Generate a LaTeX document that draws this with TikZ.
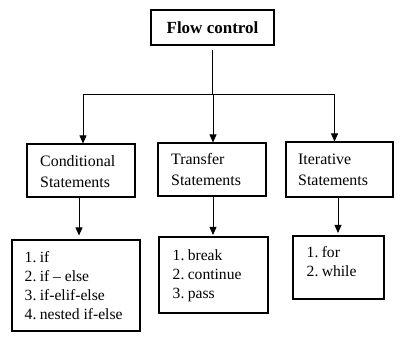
\documentclass[tikz,border=0pt]{standalone}
\usepackage{fontspec}
\setmainfont{Liberation Serif}
\usetikzlibrary{arrows.meta}
\newcommand{\nsp}{\hspace{3.4pt}}
\begin{document}
\begin{tikzpicture}[x=1pt,y=-1pt,
  box/.style={draw,line width=1.1pt,inner sep=0pt,rectangle},
  conn/.style={line width=0.8pt},
  arr/.style={line width=0.8pt,-{Triangle[length=8pt,width=7pt]}},
  head/.style={align=left,inner sep=0pt,anchor=north west,font=\fontsize{15.9}{21}\selectfont},
  items/.style={align=left,inner sep=0pt,anchor=north west,font=\fontsize{15.6}{19}\selectfont}]
\useasboundingbox (0,0) rectangle (412,350);
% boxes
\node[box,minimum width=123pt,minimum height=35pt,font=\bfseries\fontsize{17}{20}\selectfont] (fc) at (212.5,27.5) {Flow control};
\node[box,minimum width=108pt,minimum height=53pt] (cond) at (81,170.5) {};
\node[box,minimum width=108pt,minimum height=53pt] (trans) at (212,169.5) {};
\node[box,minimum width=107pt,minimum height=55pt] (iter) at (339.5,169.5) {};
\node[box,minimum width=128pt,minimum height=91pt] (condl) at (76,285.5) {};
\node[box,minimum width=109pt,minimum height=76pt] (transl) at (213.5,275) {};
\node[box,minimum width=91pt,minimum height=63pt] (iterl) at (338.5,267.5) {};
% texts
\node[head] (tcond) at (40,151.3) {\strut Conditional\\Statements};
\node[head] (ttrans) at (171,149.3) {\strut Transfer\\Statements};
\node[head] (titer) at (298,149.3) {\strut Iterative\\Statements};
\node[items] (lcond) at (24.5,248.7) {\strut 1.\nsp if\\2.\nsp if -- else\\3.\nsp if-elif-else\\4.\nsp nested if-else};
\node[items] (ltrans) at (172.5,246.7) {\strut 1.\nsp break\\2.\nsp continue\\3.\nsp pass};
\node[items] (liter) at (306.5,243.7) {\strut 1.\nsp for\\2.\nsp while};
% connectors
\coordinate (hub) at (213,94);
\coordinate (hl) at (83,94);
\coordinate (hr) at (334.5,94);
\draw[conn] ([yshift=-4.5pt]fc.south) -- (fc.south |- hub);
\draw[conn] (hl) -- (hr);
\draw[arr] (hl) -- (hl |- cond.north);
\draw[arr] (hub) -- (hub |- trans.north);
\draw[arr] (hr) -- (hr |- iter.north);
\draw[arr,shorten >=4pt] ([xshift=-2pt]cond.south) -- ([xshift=-2pt]cond.south |- condl.north);
\draw[arr,shorten >=1.5pt] ([xshift=1pt]trans.south) -- ([xshift=1pt]trans.south |- transl.north);
\draw[arr,shorten >=2.5pt] ([xshift=-1.5pt]iter.south) -- ([xshift=-1.5pt]iter.south |- iterl.north);
\end{tikzpicture}
\end{document}
